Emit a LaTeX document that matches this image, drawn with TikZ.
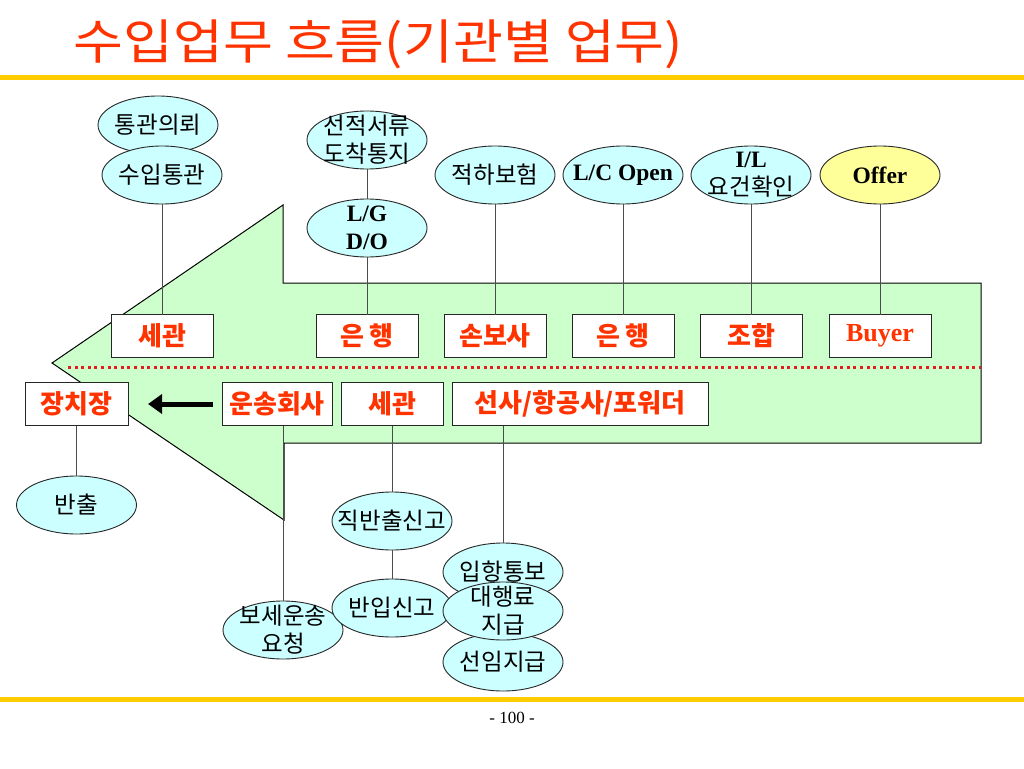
\documentclass[tikz,border=0pt]{standalone}
\usepackage{fontspec}
\setmainfont{Liberation Serif}
\newfontfamily\kr{Noto Sans CJK KR}
\usetikzlibrary{shapes.geometric,arrows.meta}
\definecolor{hangred}{RGB}{255,51,0}
\definecolor{dotred}{RGB}{225,30,30}
\definecolor{leafgreen}{RGB}{204,255,204}
\definecolor{skycyan}{RGB}{204,255,255}
\definecolor{paleyellow}{RGB}{255,255,153}
\definecolor{bargold}{RGB}{255,204,0}

\begin{document}
\begin{tikzpicture}[x=1pt, y=-1pt, outer sep=0pt]

\tikzstyle{task}=[draw=black!85, line width=0.9pt, fill=skycyan, ellipse, minimum width=120pt, minimum height=58pt, inner xsep=-30pt, inner ysep=-16pt, align=center, font=\kr\fontsize{23.5}{28}\selectfont]
\tikzstyle{agent}=[draw=black!85, line width=0.9pt, fill=white, rectangle, minimum height=43pt, minimum width=102pt, inner sep=0pt, text=hangred, font=\kr\bfseries\fontsize{26}{26}\selectfont]
\tikzstyle{link}=[draw=black!70, line width=0.9pt]
\tikzstyle{rule}=[draw=bargold, line width=5pt]

\fill[white] (0,0) rectangle (1024,768);
\useasboundingbox (0,0) rectangle (1024,768);

\node[anchor=west, text=hangred, font=\kr\fontsize{48}{48}\selectfont] (title) at (70,44) {\scalebox{1.13}[1]{수입업무 흐름(기관별 업무)}};
\draw[rule] (0,77) -- (1024,77);
\draw[rule] (0,699) -- (1024,699);
\node[font=\fontsize{17}{17}\selectfont] (pagenum) at (512,718) {- 100 -};

\filldraw[fill=leafgreen, draw=black, line width=1pt] (52,363) -- (283,205) -- (283,283) -- (981,283) -- (981,443) -- (284,443) -- (284,520) -- cycle;
\draw[dotred, line width=3pt, dash pattern=on 3pt off 3.6pt] (68,367) -- (981,367);

\node[agent] (segwan) at (162,336) {세관}; \node[agent] (eunhaeng) at (367,336) {은 행}; \node[agent] (sonbosa) at (495,336) {손보사};
\node[agent] (eunhaengb) at (623,336) {은 행}; \node[agent] (johap) at (751,336) {조합}; \node[agent, font=\rmfamily\bfseries\fontsize{26}{26}\selectfont] (buyer) at (880,336) {Buyer};
\node[agent, minimum width=103pt] (jangchi) at (76.5,404) {장치장}; \node[agent, minimum width=110pt] (unsong) at (277,404) {운송회사};
\node[agent] (segwanb) at (392,404) {세관}; \node[agent, minimum width=256pt] (seonsa) at (580,404) {선사/항공사/포워더};

\node[task] (tongreq) at (158,125) {통관의뢰}; \node[task] (suip) at (162,175) {수입통관};
\node[task] (seonjeok) at (367,140) {선적서류\\도착통지}; \node[task] (lgdo) at (367,228) {{\rmfamily\bfseries L/G}\\{\rmfamily\bfseries D/O}};
\node[task] (jeokha) at (495,175) {적하보험}; \node[task] (lcopen) at (623,175) {\rmfamily\bfseries L/C Open};
\node[task] (ilcheck) at (751,175) {{\rmfamily\bfseries I/L}\\요건확인}; \node[task, fill=paleyellow] (offer) at (880,175) {\rmfamily\bfseries Offer};

\node[task] (banchul) at (76.5,505) {반출};
\node[task] (bosei) at (283,630) {보세운송\\요청};
\node[task] (jikban) at (392,521) {직반출신고}; \node[task] (banip) at (392,608) {반입신고};
\node[task] (ipang) at (503,572) {입항통보}; \node[task] (seonim) at (503,662) {선임지급}; \node[task] (daehang) at (503,611) {대행료\\지급};

\draw[link] (suip) -- (segwan); \draw[link] (seonjeok) -- (lgdo); \draw[link] (lgdo) -- (eunhaeng);
\draw[link] (jeokha) -- (sonbosa); \draw[link] (lcopen) -- (eunhaengb); \draw[link] (ilcheck) -- (johap); \draw[link] (offer) -- (buyer);
\draw[link] (jangchi) -- (banchul); \draw[link] (unsong.south -| bosei.north) -- (bosei.north);
\draw[link] (segwanb) -- (jikban); \draw[link] (jikban) -- (banip); \draw[link] (seonsa.south -| ipang.north) -- (ipang.north);
\draw[line width=5pt, -{Triangle[length=14pt, width=19pt]}] ([xshift=-9pt]unsong.west) -- ([xshift=20pt]jangchi.east);

\end{tikzpicture}
\end{document}
